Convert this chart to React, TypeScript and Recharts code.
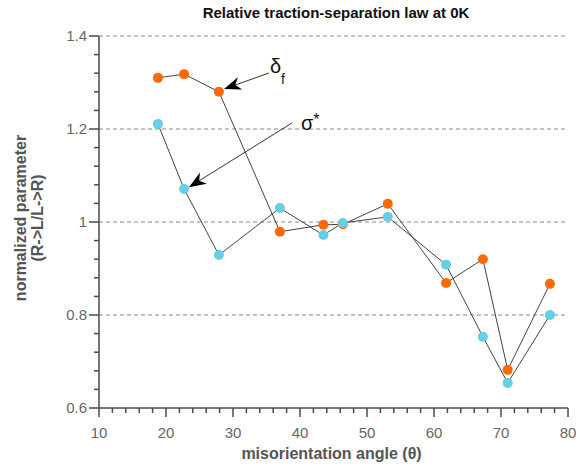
import { ComposedChart, Line, XAxis, YAxis, CartesianGrid, ReferenceLine } from 'recharts';

const angles = [18.8, 22.7, 27.9, 37.0, 43.5, 46.4, 53.1, 61.8, 67.3, 71.0, 77.3];
const deltaF = [1.31, 1.318, 1.28, 0.979, 0.994, 0.995, 1.039, 0.869, 0.92, 0.682, 0.867];
const sigmaStar = [1.211, 1.071, 0.929, 1.03, 0.972, 0.998, 1.011, 0.908, 0.753, 0.654, 0.8];

const xTicks = [10, 12, 14, 16, 18, 20, 22, 24, 26, 28, 30, 32, 34, 36, 38, 40, 42, 44, 46, 48, 50,
  52, 54, 56, 58, 60, 62, 64, 66, 68, 70, 72, 74, 76, 78, 80];
const yTicks = [0.6, 0.64, 0.68, 0.72, 0.76, 0.8, 0.84, 0.88, 0.92, 0.96, 1, 1.04, 1.08, 1.12, 1.16,
  1.2, 1.24, 1.28, 1.32, 1.36, 1.4];
const gridValues = [0.8, 1, 1.2, 1.4];

const data = angles.map((angle, i) => ({ angle, deltaF: deltaF[i], sigmaStar: sigmaStar[i] }));

const FONT = '"Liberation Sans", Arial, sans-serif';
const AXIS = '#4a4a4a';

// minor ticks are drawn by the tick renderer, only majors get a label
function XTick(props: any) {
  const { x, y, payload } = props;
  const major = payload.value % 10 === 0;
  return (
    <g>
      <line x1={x} y1={y} x2={x} y2={y + (major ? 9 : 5)} stroke={AXIS} strokeWidth={1.5} />
      {major && (
        <text x={x} y={y + 30} textAnchor="middle" fontSize={15} fill="#666" fontFamily={FONT}>
          {payload.value}
        </text>
      )}
    </g>
  );
}

function YTick(props: any) {
  const { x, y, payload } = props;
  const v = payload.value;
  const major = Math.abs(v * 5 - Math.round(v * 5)) < 1e-6;
  return (
    <g>
      <line x1={x - (major ? 10 : 5)} y1={y} x2={x} y2={y} stroke={AXIS} strokeWidth={1.5} />
      {major && (
        <text x={x - 12} y={y + 5} textAnchor="end" fontSize={15} fill="#666" fontFamily={FONT}>
          {Number(v.toFixed(1)).toString()}
        </text>
      )}
    </g>
  );
}

function Arrow(props: any) {
  const { x1, y1, x2, y2, sym, sub, sup } = props;
  const ang = Math.atan2(y2 - y1, x2 - x1);
  const len = 17;
  const hw = 6.5;
  const bx = x2 - len * Math.cos(ang);
  const by = y2 - len * Math.sin(ang);
  const nx = x2 - (len - 5) * Math.cos(ang);
  const ny = y2 - (len - 5) * Math.sin(ang);
  const px = -Math.sin(ang) * hw;
  const py = Math.cos(ang) * hw;
  return (
    <g>
      <line x1={x1} y1={y1} x2={nx} y2={ny} stroke="#333" strokeWidth={1} />
      <polygon points={`${x2},${y2} ${bx + px},${by + py} ${nx},${ny} ${bx - px},${by - py}`} fill="#000" />
      <text x={x1 + (sub ? 1 : 9)} y={y1 + (sub ? 0 : 7)} fontSize={20} fill="#111" fontFamily={FONT}>
        {sym}
        {sub && <tspan fontSize={14} dy={11}>{sub}</tspan>}
        {sup && <tspan fontSize={16} dy={-5}>{sup}</tspan>}
      </text>
    </g>
  );
}

function YLabel(props: any) {
  const { viewBox } = props;
  const cy = viewBox.y + viewBox.height / 2 - 4;
  return (
    <text transform={`translate(0, ${cy}) rotate(-90)`} textAnchor="middle" fontSize={16}
      fontWeight="bold" fill="#555" fontFamily={FONT}>
      <tspan x={0} y={26}>normalized parameter</tspan>
      <tspan x={0} y={43}>(R-&gt;L/L-&gt;R)</tspan>
    </text>
  );
}

function XLabel(props: any) {
  const { viewBox } = props;
  return (
    <text x={viewBox.x + viewBox.width / 2 - 2} y={viewBox.y + 51} textAnchor="middle" fontSize={16}
      fontWeight="bold" fill="#555" fontFamily={FONT}>
      misorientation angle (θ)
    </text>
  );
}

export default function App() {
  return (
    <div style={{ position: 'absolute', left: 0, top: 0, width: 576, height: 466, background: '#fff' }}>
      <div style={{
        position: 'absolute', left: 0, width: 576, top: 4, textAlign: 'center', paddingLeft: 96,
        boxSizing: 'border-box', fontFamily: FONT, fontWeight: 'bold', fontSize: 15, color: '#111',
      }}>
        Relative traction-separation law at 0K
      </div>
      <ComposedChart width={576} height={466} data={data} margin={{ top: 36, right: 8, bottom: 0, left: 0 }}>
        <CartesianGrid horizontal vertical={false} horizontalValues={gridValues} stroke="#888"
          strokeDasharray="4 3" />
        <XAxis dataKey="angle" type="number" domain={[10, 80]} ticks={xTicks} interval={0}
          height={58} tickSize={0} tickMargin={0} tickLine={false} tick={<XTick />}
          axisLine={{ stroke: AXIS, strokeWidth: 1.5 }} label={<XLabel />} />
        <YAxis type="number" domain={[0.6, 1.4]} ticks={yTicks} interval={0} width={99}
          tickSize={0} tickMargin={0} tickLine={false} tick={<YTick />}
          axisLine={{ stroke: AXIS, strokeWidth: 1.5 }} label={<YLabel />} />
        <Line dataKey="deltaF" type="linear" stroke="#444" strokeWidth={1}
          dot={{ r: 5, fill: '#ff6a00', stroke: 'none' }} activeDot={false} isAnimationActive={false} />
        <Line dataKey="sigmaStar" type="linear" stroke="#444" strokeWidth={1}
          dot={{ r: 5, fill: '#66cfe6', stroke: 'none' }} activeDot={false} isAnimationActive={false} />
        <ReferenceLine segment={[{ x: 35.37, y: 1.3204 }, { x: 28.66, y: 1.286 }]}
          shape={(p: any) => <Arrow {...p} sym="δ" sub="f" />} />
        <ReferenceLine segment={[{ x: 38.8, y: 1.213 }, { x: 23.43, y: 1.075 }]}
          shape={(p: any) => <Arrow {...p} sym="σ" sup="*" />} />
      </ComposedChart>
    </div>
  );
}
